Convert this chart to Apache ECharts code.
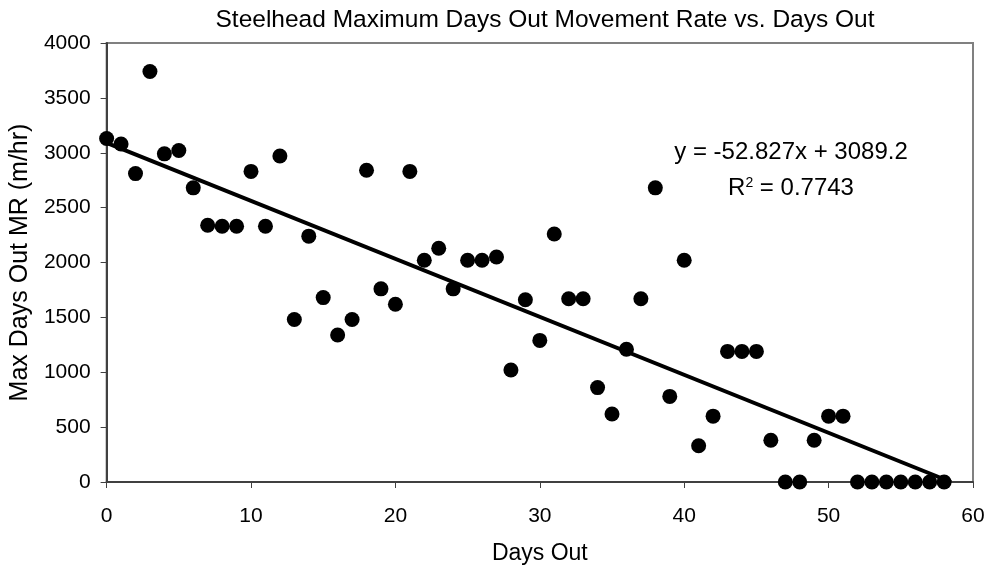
<!DOCTYPE html>
<html>
<head>
<meta charset="utf-8">
<script src="https://cdn.jsdelivr.net/npm/echarts@6/dist/echarts.min.js"></script>
<style>
html,body{margin:0;padding:0;background:#fff;}
#chart{width:988px;height:572px;}
</style>
</head>
<body>
<div id="chart"></div>
<script>
// Days out (x values)
var daysOut = [0,1,2,3,4,5,6,7,8,9,10,11,12,13,14,15,16,17,18,19,20,21,22,23,24,25,26,27,28,29,30,31,32,33,34,35,36,37,38,39,40,41,42,43,44,45,46,47,48,49,50,51,52,53,54,55,56,57,58];
// Max days out movement rate (m/hr)
var maxMR = [3130,3080,2810,3740,2990,3020,2680,2340,2330,2330,2830,2330,2970,1480,2240,1680,1340,1480,2840,1760,1620,2830,2020,2130,1760,2020,2020,2050,1020,1660,1290,2260,1670,1670,860,620,1210,1670,2680,780,2020,330,600,1190,1190,1190,380,0,0,380,600,600,0,0,0,0,0,0,0];
// Linear trendline coefficients (as shown on the chart)
var trendSlope = [-52.827];
var trendIntercept = [3089.2];
var trendRange = [0, 58.48];
var trendEquation = 'y = -52.827x + 3089.2';
var trendR2 = '0.7743';
var xTicks = [0, 60, 10];
var yTicks = [0, 4000, 500];

var points = daysOut.map(function(d, i){ return [d, maxMR[i]]; });
var trend = trendRange.map(function(x){ return [x, trendSlope[0]*x + trendIntercept[0]]; });

var FONT = 'Liberation Sans, Arial, sans-serif';
var chart = echarts.init(document.getElementById('chart'), null, {renderer:'canvas'});
chart.setOption({
  animation: false,
  backgroundColor: '#ffffff',
  title: {
    text: 'Steelhead Maximum Days Out Movement Rate vs. Days Out',
    left: 540, top: 3, textAlign: 'center',
    textStyle: {fontFamily: FONT, fontSize: 24.5, fontWeight: 'normal', color: '#000'}
  },
  grid: {left: 106, right: 15, top: 43, bottom: 90, show: true, borderColor: '#808080', borderWidth: 2, backgroundColor: '#fff'},
  xAxis: {
    type: 'value', min: xTicks[0], max: xTicks[1], interval: xTicks[2],
    name: 'Days Out', nameLocation: 'middle', nameGap: 60,
    nameTextStyle: {fontFamily: FONT, fontSize: 23, color: '#000'},
    axisLine: {show: true, onZero: false, lineStyle: {color: '#404040', width: 2}},
    axisTick: {show: true, inside: false, length: 6, lineStyle: {color: '#404040', width: 1}},
    axisLabel: {fontFamily: FONT, fontSize: 21, color: '#000', margin: 24},
    splitLine: {show: false}
  },
  yAxis: {
    type: 'value', min: yTicks[0], max: yTicks[1], interval: yTicks[2],
    name: 'Max Days Out MR (m/hr)', nameLocation: 'middle', nameGap: 70,
    nameTextStyle: {fontFamily: FONT, fontSize: 25, color: '#000'},
    axisLine: {show: true, onZero: false, lineStyle: {color: '#404040', width: 2}},
    axisTick: {show: true, inside: false, length: 6, lineStyle: {color: '#404040', width: 1}},
    axisLabel: {fontFamily: FONT, fontSize: 21, color: '#000', margin: 16, formatter: function(v){ return String(v); }},
    splitLine: {show: false}
  },
  series: [
    {
      type: 'line', data: trend, showSymbol: false, symbol: 'none',
      lineStyle: {color: '#000', width: 4}, z: 2, silent: true
    },
    {
      type: 'scatter', data: points, symbol: 'circle', symbolSize: 15,
      itemStyle: {color: '#000', opacity: 1}, z: 3
    }
  ],
  graphic: [
    {type: 'text', z: 10, style: {text: trendEquation, x: 791, y: 152, align: 'center', verticalAlign: 'middle', font: '24px ' + FONT, fill: '#000'}},
    {type: 'text', z: 10, style: {
      text: 'R{sup|2} = ' + trendR2, x: 791, y: 188, align: 'center', verticalAlign: 'middle',
      font: '24px ' + FONT, fill: '#000',
      rich: {sup: {fontSize: 14, fontFamily: FONT, verticalAlign: 'top', padding: [0,0,10,0], fill: '#000'}}
    }}
  ]
});
</script>
</body>
</html>
